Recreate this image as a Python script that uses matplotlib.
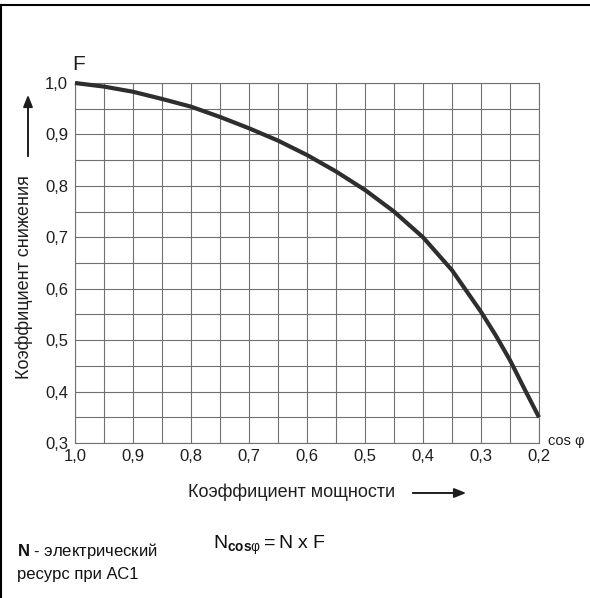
import matplotlib
matplotlib.use('Agg')
import matplotlib.pyplot as plt
from matplotlib.lines import Line2D
from matplotlib.patches import FancyArrowPatch
import numpy as np

plt.rcParams['font.family'] = ['Liberation Sans', 'DejaVu Sans']
plt.rcParams['mathtext.fontset'] = 'custom'
plt.rcParams['mathtext.rm'] = 'Liberation Sans'
plt.rcParams['mathtext.bf'] = 'Liberation Sans:bold'
plt.rcParams['mathtext.it'] = 'Liberation Sans:italic'

# power factor (cos phi) and derating factor F
cos_phi = [1.0, 0.95, 0.9, 0.85, 0.8, 0.75, 0.7, 0.65, 0.6, 0.55,
           0.5, 0.45, 0.4, 0.35, 0.3, 0.275, 0.25, 0.225, 0.2]
factor_f = [1.0, 0.993, 0.983, 0.969, 0.954, 0.934, 0.912, 0.888, 0.86, 0.828,
            0.792, 0.75, 0.70, 0.636, 0.555, 0.51, 0.461, 0.405, 0.35]

x_major = [1.0, 0.9, 0.8, 0.7, 0.6, 0.5, 0.4, 0.3, 0.2]
x_labels = ['1,0', '0,9', '0,8', '0,7', '0,6', '0,5', '0,4', '0,3', '0,2']
y_major = [0.3, 0.4, 0.5, 0.6, 0.7, 0.8, 0.9, 1.0]
y_labels = ['0,3', '0,4', '0,5', '0,6', '0,7', '0,8', '0,9', '1,0']

grid_col = '#707070'
txt_col = '#1e1e1e'
fs_tick = 12
fs_lab = 13

fig = plt.figure(figsize=(5.9, 5.98), dpi=100)
ax = fig.add_axes([75 / 590, 155 / 598, 464 / 590, 360 / 598])

ax.plot(cos_phi, factor_f, color='#2e2e2e', lw=3.0, clip_on=False,
        solid_capstyle='butt', solid_joinstyle='round', zorder=3)

ax.set_xlim(1.0, 0.2)
ax.set_ylim(0.3, 1.0)
ax.set_xticks(x_major)
ax.set_xticklabels(x_labels, fontsize=fs_tick)
ax.set_xticks(np.arange(0.25, 1.0, 0.1), minor=True)
ax.set_yticks(y_major)
ax.set_yticklabels(y_labels, fontsize=fs_tick)
ax.set_yticks(np.arange(0.35, 1.0, 0.1), minor=True)
ax.tick_params(which='both', length=0)
ax.tick_params(axis='x', pad=4, colors=txt_col)
ax.tick_params(axis='y', pad=5, colors=txt_col)
ax.grid(True, which='both', color=grid_col, lw=0.8)
for sp in ax.spines.values():
    sp.set_color(grid_col)
    sp.set_linewidth(0.8)

# axis titles and arrows
ax.text(-0.005, 1.025, 'F', transform=ax.transAxes, fontsize=15, ha='left',
        va='bottom', color=txt_col)
fig.text(24 / 590, 1 - 277 / 598, 'Коэффициент снижения', rotation=90,
         fontsize=fs_lab, ha='center', va='center', color=txt_col)
fig.add_artist(FancyArrowPatch(
    (28 / 590, 1 - 159 / 598), (28 / 590, 1 - 92 / 598),
    transform=fig.transFigure, arrowstyle='-|>,head_length=7,head_width=2.8',
    color=txt_col, lw=1.4, mutation_scale=1))
fig.text(292 / 590, 1 - 492 / 598, 'Коэффициент мощности', fontsize=fs_lab,
         ha='center', va='center', color=txt_col)
fig.add_artist(FancyArrowPatch(
    (410 / 590, 1 - 493 / 598), (469 / 590, 1 - 493 / 598),
    transform=fig.transFigure, arrowstyle='-|>,head_length=7,head_width=2.8',
    color=txt_col, lw=1.4, mutation_scale=1))
fig.text(548 / 590, 1 - 441 / 598, 'cos φ', fontsize=10.5, ha='left',
         va='center', color=txt_col)

# formula and note
fig.text(213 / 590, 1 - 545 / 598,
         r'$\mathrm{N}_{\mathbf{cos}\mathrm{φ}}\mathrm{=N\ x\ F}$',
         fontsize=14, ha='left', va='center', color='#111111')
fig.text(17 / 590, 1 - 551 / 598, r'$\mathbf{N}$ - электрический',
         fontsize=12, ha='left', va='center', color='#111111')
fig.text(17 / 590, 1 - 574 / 598, 'ресурс при АС1',
         fontsize=12, ha='left', va='center', color='#111111')

# frame lines at top and left of the figure
fig.add_artist(Line2D([0, 1], [1 - 5 / 598, 1 - 5 / 598],
                      transform=fig.transFigure, color='black', lw=1.5))
fig.add_artist(Line2D([1 / 590, 1 / 590], [0, 1 - 5 / 598],
                      transform=fig.transFigure, color='black', lw=1.5))

fig.savefig('out.png', dpi=100)
